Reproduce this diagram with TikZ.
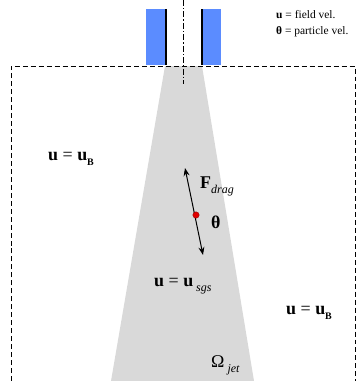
\documentclass[tikz,border=0pt]{standalone}
\usepackage{fontspec}
\setmainfont{Liberation Serif}
\usetikzlibrary{arrows.meta}
\definecolor{duese}{HTML}{5B8CFF}
\definecolor{strahl}{HTML}{D9D9D9}
\definecolor{partikel}{HTML}{E00000}
\newcommand{\tief}[2][12]{\raisebox{-5bp}{\fontsize{#1}{#1}\selectfont #2}}
\tikzset{
  rand/.style={black,line width=0.9pt,dash pattern=on 5pt off 3pt},
  achse/.style={black,line width=0.9pt,dash pattern=on 6pt off 2pt on 1.5pt off 2pt},
  wand/.style={fill=duese,draw=none},
  kante/.style={black,line width=1.4pt},
  vec/.style={{Stealth[length=8pt,width=6pt]}-{Stealth[length=8pt,width=6pt]},line width=1pt},
  lab/.style={anchor=base west,inner sep=0pt,font=\fontsize{18}{20}\selectfont},
  leg/.style={anchor=base west,inner sep=0pt,font=\fontsize{11.5}{13}\selectfont},
}

\begin{document}
\begin{tikzpicture}[x=1bp,y=-1bp]
  \useasboundingbox (0,0) rectangle (357,381);
  % jet region
  \fill[strahl] (165,66) -- (202,66) -- (254,381) -- (111,381) -- cycle;
  % nozzle
  \fill[wand] (146,9) rectangle (166,65);
  \fill[wand] (202,9) rectangle (221,65);
  \draw[kante] (166,9) -- (166,65);
  \draw[kante] (202,9) -- (202,65);
  \draw[achse] (183.5,0) -- (183.5,84);
  % domain
  \draw[rand] (11,381) -- (11,66) -- (355,66) -- (355,381);
  % particle
  \coordinate (ftop) at (185,168);
  \coordinate (fbot) at (203,255);
  \draw[vec] (ftop) -- (fbot);
  \node[circle,fill=partikel,draw=partikel!60!black,line width=0.3pt,inner sep=0pt,minimum size=6.5bp] (p) at (196,215) {};
  \node[lab] (fd) at (200,188) {\textbf{F}\tief{\textit{drag}}};
  \node[lab] (th) at (211,228) {\textbf{θ}};
  % labels
  \node[lab] (ul) at (48,160) {\textbf{u} = \textbf{u}\tief[10]{\textbf{B}}};
  \node[lab] (ur) at (286,314) {\textbf{u} = \textbf{u}\tief[10]{\textbf{B}}};
  \node[lab] (us) at (154,286) {\textbf{u} = \textbf{u}\,\tief{\textit{sgs}}};
  \node[lab] (om) at (211,367) {Ω\,\tief{\textit{jet}}};
  % legend
  \node[leg] (l1) at (276,18) {\textbf{u} = field vel.};
  \node[leg] (l2) at (276,34) {\textbf{θ} = particle vel.};
\end{tikzpicture}
\end{document}
